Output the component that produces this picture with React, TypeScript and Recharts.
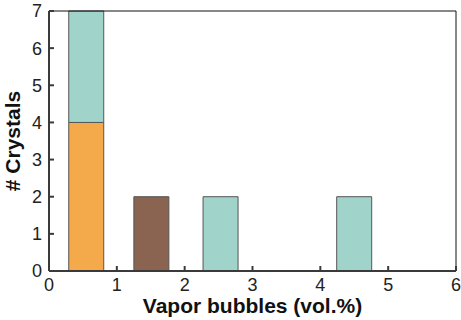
import { BarChart, Bar, XAxis, YAxis, ReferenceLine } from "recharts";

// bin centres (vol.%) and crystal counts per colour group
const binCenters = [0.55, 1.51, 2.53, 4.5];
const orangeCounts = [4, 0, 0, 0];
const brownCounts = [0, 2, 0, 0];
const tealCounts = [3, 0, 2, 2];

const xTicks = [0, 1, 2, 3, 4, 5, 6];
const yTicks = [0, 1, 2, 3, 4, 5, 6, 7];

const data = binCenters.map((x, i) => ({
  x,
  orange: orangeCounts[i],
  brown: brownCounts[i],
  teal: tealCounts[i],
}));

const AXIS = "#3a3a3a";
const FONT = "Liberation Sans, Arial, sans-serif";

export default function App() {
  return (
    <div style={{ position: "absolute", left: 0, top: 0, fontFamily: FONT }}>
      <BarChart
        width={461}
        height={320}
        data={data}
        margin={{ top: 11, right: 5, left: 0, bottom: 0 }}
      >
        <XAxis
          dataKey="x"
          type="number"
          domain={[0, 6]}
          ticks={xTicks}
          allowDecimals={false}
          height={49}
          tickSize={-5}
          tickMargin={12}
          axisLine={{ stroke: AXIS, strokeWidth: 2 }}
          tickLine={{ stroke: AXIS, strokeWidth: 2 }}
          tick={{ fill: "#222", fontSize: 18, fontFamily: FONT }}
          label={{
            value: "Vapor bubbles (vol.%)",
            position: "insideBottom",
            offset: 7,
            fill: "#111",
            fontSize: 21,
            fontWeight: "bold",
            fontFamily: FONT,
          }}
        />
        <YAxis
          type="number"
          domain={[0, 7]}
          ticks={yTicks}
          width={49}
          tickSize={-5}
          tickMargin={12}
          axisLine={{ stroke: AXIS, strokeWidth: 2 }}
          tickLine={{ stroke: AXIS, strokeWidth: 2 }}
          tick={{ fill: "#222", fontSize: 18, fontFamily: FONT }}
          label={{
            value: "# Crystals",
            angle: -90,
            position: "insideLeft",
            offset: 13,
            textAnchor: "middle",
            fill: "#111",
            fontSize: 21,
            fontWeight: "bold",
            fontFamily: FONT,
          }}
        />
        <ReferenceLine y={7} stroke="#111" strokeWidth={1} />
        <ReferenceLine x={6} stroke="#111" strokeWidth={1} />
        <Bar
          dataKey="orange"
          stackId="a"
          barSize={35}
          fill="#F4AA4B"
          stroke="#555"
          strokeWidth={1}
          isAnimationActive={false}
        />
        <Bar
          dataKey="brown"
          stackId="a"
          barSize={35}
          fill="#8A6450"
          stroke="#555"
          strokeWidth={1}
          isAnimationActive={false}
        />
        <Bar
          dataKey="teal"
          stackId="a"
          barSize={35}
          fill="#A0D4CA"
          stroke="#555"
          strokeWidth={1}
          isAnimationActive={false}
        />
      </BarChart>
    </div>
  );
}
